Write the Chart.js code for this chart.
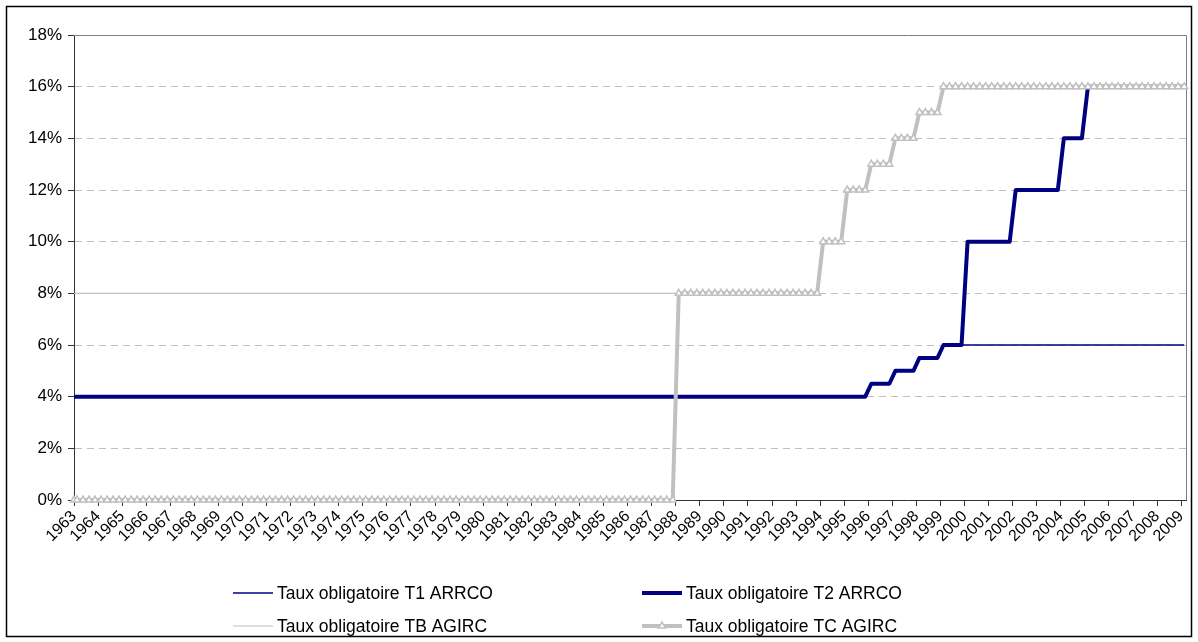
<!DOCTYPE html>
<html>
<head>
<meta charset="utf-8">
<script src="https://cdn.jsdelivr.net/npm/chart.js@4/dist/chart.umd.min.js"></script>
<style>
  html, body { margin: 0; padding: 0; background: #ffffff; }
  #wrap { width: 1198px; height: 642px; position: relative; }
</style>
</head>
<body>
<div id="wrap"><canvas id="c" width="1198" height="642"></canvas></div>
<script>
// Compulsory contribution rates (%): each entry is [first year in force, rate]
const t1Arrco = [[1963, 4], [1996, 4.5], [1997, 5], [1998, 5.5], [1999, 6]];
const t2Arrco = [[1963, 4], [1996, 4.5], [1997, 5], [1998, 5.5], [1999, 6], [2000, 10], [2002, 12], [2004, 14], [2005, 16]];
const tbAgirc = [[1963, 8], [1994, 10], [1995, 12], [1996, 13], [1997, 14], [1998, 15], [1999, 16]];
const tcAgirc = [[1963, 0], [1988, 8], [1994, 10], [1995, 12], [1996, 13], [1997, 14], [1998, 15], [1999, 16]];

const seriesLabels = [
  'Taux obligatoire T1 ARRCO',
  'Taux obligatoire T2 ARRCO',
  'Taux obligatoire TB AGIRC',
  'Taux obligatoire TC AGIRC'
];
const firstYear = 1963;
const lastYear = 2009;
const yTickValues = [0, 2, 4, 6, 8, 10, 12, 14, 16, 18];

// Series are sampled once per quarter (mid-quarter dates); each rate holds until the next change
const quarterDates = [firstYear];
for (let y = firstYear; y <= lastYear; y++) {
  for (let q = 0; q < 4; q++) {
    const t = y + q / 4 + 0.125;
    if (t <= lastYear + 0.2) quarterDates.push(t);
  }
}
function rateAt(schedule, t) {
  let v = schedule[0][1];
  for (const [start, rate] of schedule) if (t >= start) v = rate;
  return v;
}
const toPoints = schedule => quarterDates.map(t => ({ x: t, y: rateAt(schedule, t) }));

Chart.defaults.font.family = '"Liberation Sans", Arial, sans-serif';
Chart.defaults.color = '#000000';

const NAVY = '#000080';
const SILVER = '#C0C0C0';

const datasets = [
  { label: seriesLabels[0], data: toPoints(t1Arrco), borderColor: NAVY, borderWidth: 1.5, pointRadius: 0, order: 2 },
  { label: seriesLabels[1], data: toPoints(t2Arrco), borderColor: NAVY, borderWidth: 4, pointRadius: 0, order: 1 },
  { label: seriesLabels[2], data: toPoints(tbAgirc), borderColor: SILVER, borderWidth: 1.2, pointRadius: 0, order: 3 },
  { label: seriesLabels[3], data: toPoints(tcAgirc), borderColor: SILVER, borderWidth: 4, order: 0,
    pointStyle: 'triangle', pointRadius: 4, pointBackgroundColor: '#ffffff',
    pointBorderColor: SILVER, pointBorderWidth: 1.5 }
];
datasets.forEach(d => { d.fill = false; d.tension = 0; d.borderJoinStyle = 'round'; d.clip = false; });

// Plot frame (solid top line and right edge) and the outer chart border
const framePlugin = {
  id: 'frame',
  beforeDatasetsDraw(chart) {
    const { ctx, chartArea: a } = chart;
    ctx.save();
    ctx.strokeStyle = '#808080';
    ctx.lineWidth = 1;
    ctx.beginPath();
    ctx.moveTo(a.left, a.top + 0.5);
    ctx.lineTo(a.right + 0.5, a.top + 0.5);
    ctx.lineTo(a.right + 0.5, a.bottom);
    ctx.stroke();
    ctx.restore();
  },
  afterDraw(chart) {
    const ctx = chart.ctx;
    ctx.save();
    ctx.strokeStyle = '#000000';
    ctx.lineWidth = 1.5;
    ctx.strokeRect(6.5, 6.5, 1185, 630);
    ctx.restore();
  }
};

// Two-column legend below the axis
const legendPlugin = {
  id: 'gridLegend',
  afterDraw(chart) {
    const ctx = chart.ctx;
    const cols = [233, 642];
    const rows = [593, 626];
    const sampleLen = 40;
    ctx.save();
    chart.data.datasets.forEach((ds, i) => {
      const x = cols[i % 2];
      const y = rows[Math.floor(i / 2)];
      ctx.strokeStyle = ds.borderColor;
      ctx.lineWidth = ds.borderWidth;
      ctx.beginPath();
      ctx.moveTo(x, y);
      ctx.lineTo(x + sampleLen, y);
      ctx.stroke();
      if (ds.pointRadius) {
        const r = ds.pointRadius;
        const side = 3 * r / Math.sqrt(3);
        const h = side * Math.sqrt(3) / 2;
        const cx = x + sampleLen / 2;
        ctx.beginPath();
        ctx.moveTo(cx, y - 2 * h / 3);
        ctx.lineTo(cx + side / 2, y + h / 3);
        ctx.lineTo(cx - side / 2, y + h / 3);
        ctx.closePath();
        ctx.fillStyle = ds.pointBackgroundColor;
        ctx.fill();
        ctx.lineWidth = ds.pointBorderWidth;
        ctx.strokeStyle = ds.pointBorderColor;
        ctx.stroke();
      }
      ctx.fillStyle = '#000000';
      ctx.font = '17.5px "Liberation Sans", Arial, sans-serif';
      ctx.textBaseline = 'middle';
      ctx.textAlign = 'left';
      ctx.fillText(ds.label, x + sampleLen + 4, y + 1);
    });
    ctx.restore();
  }
};

new Chart(document.getElementById('c'), {
  type: 'line',
  data: { datasets },
  options: {
    responsive: false,
    animation: false,
    events: [],
    layout: { padding: { top: 35, right: 12, left: 0, bottom: 0 } },
    plugins: { legend: { display: false }, tooltip: { enabled: false } },
    scales: {
      x: {
        type: 'linear',
        min: firstYear,
        max: lastYear + 0.2,
        afterBuildTicks: s => { s.ticks = []; for (let y = firstYear; y <= lastYear; y++) s.ticks.push({ value: y }); },
        ticks: {
          autoSkip: false, minRotation: 45, maxRotation: 45, includeBounds: false,
          padding: 1, font: { size: 16 }, color: '#000000',
          callback: v => String(v)
        },
        grid: { drawOnChartArea: false, drawTicks: true, tickLength: 6, color: '#333333', tickColor: '#333333' },
        border: { color: '#333333', width: 1 },
        afterFit: s => { s.height = 142; }
      },
      y: {
        min: 0,
        max: 18,
        afterBuildTicks: s => { s.ticks = yTickValues.map(v => ({ value: v })); },
        ticks: { padding: 6, font: { size: 17 }, color: '#000000', callback: v => v + '%' },
        grid: {
          color: c => (c.tick && (c.tick.value === 0 || c.tick.value === 18)) ? 'rgba(0,0,0,0)' : SILVER,
          lineWidth: 1, tickLength: 6, tickColor: '#333333', tickBorderDash: []
        },
        border: { color: '#333333', width: 1, dash: [7, 5] },
        afterFit: s => { s.width = 74; }
      }
    }
  },
  plugins: [framePlugin, legendPlugin]
});
</script>
</body>
</html>
